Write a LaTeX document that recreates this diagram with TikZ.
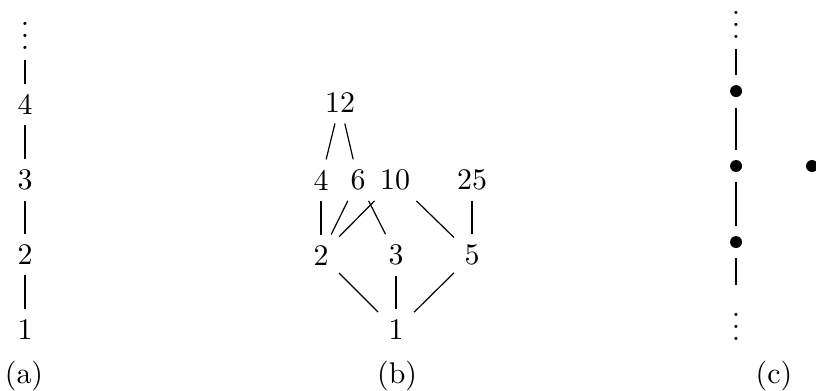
\documentclass[tikz,border=0pt]{standalone}
\usetikzlibrary{positioning}
\begin{document}
\begin{tikzpicture}[every node/.style={inner sep=3.33pt},blob/.style={circle,fill,inner sep=0pt,minimum size=4pt,outer sep=3.5pt}]
\useasboundingbox (0,0) rectangle (9.595,4.586);
% (a) chain
\node (a0) at (0.294,4.269) {$\vdots$};
\node (a4) at (0.294,3.360) {4};
\node (a3) at (0.294,2.470) {3};
\node (a2) at (0.294,1.588) {2};
\node (a1) at (0.294,0.706) {1};
\draw (a0)--(a4)--(a3)--(a2)--(a1);
\node (la) at (0.282,0.165) {(a)};
% (b) divisors
\node (b12) at (3.998,3.375) {12};
\node (b4) at (3.775,2.469) {4};
\node (b6) at (4.210,2.469) {6};
\node (b10) at (4.645,2.469) {10};
\node (b25) at (5.550,2.469) {25};
\node (b2) at (3.775,1.587) {2};
\node (b3) at (4.657,1.587) {3};
\node (b5) at (5.550,1.587) {5};
\node (b1) at (4.657,0.706) {1};
\draw (b12)--(b4); \draw (b12)--(b6);
\draw (b4)--(b2); \draw (b6)--(b2); \draw (b10)--(b2);
\draw (b6)--(b3);
\draw (b10)--(b5); \draw (b25)--(b5);
\draw (b2)--(b1); \draw (b3)--(b1); \draw (b5)--(b1);
\node (lb) at (4.670,0.165) {(b)};
% (c) dots
\node (c0) at (8.655,4.398) {$\vdots$};
\node[blob] (c3) at (8.655,3.515) {};
\node[blob] (c2) at (8.655,2.634) {};
\node[blob] (c1) at (8.655,1.740) {};
\node (c9) at (8.655,0.847) {$\vdots$};
\node[blob] (cx) at (9.548,2.634) {};
\draw (c0)--(c3)--(c2)--(c1)--(c9);
\node (lc) at (9.100,0.165) {(c)};
\end{tikzpicture}
\end{document}
